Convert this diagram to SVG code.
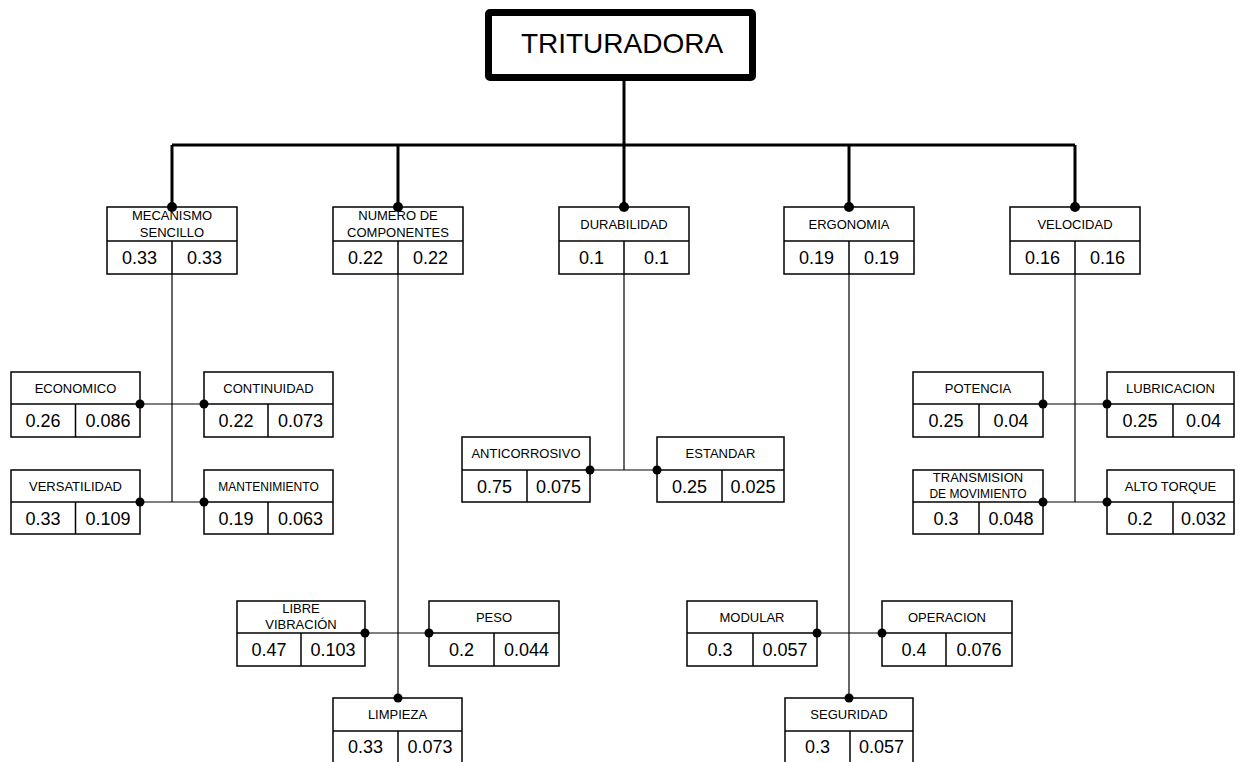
<svg xmlns="http://www.w3.org/2000/svg" width="1245" height="762" viewBox="0 0 1245 762">
<style>
.bg{fill:#fff}
.box{fill:#fff;stroke:#000;stroke-width:1.5}
.sep{stroke:#000;stroke-width:1.5}
.top{fill:#fff;stroke:#000;stroke-width:7}
.thick{stroke:#000;stroke-width:3;fill:none}
.thin{stroke:#000;stroke-width:1.2;fill:none}
.dot{fill:#000}
text{font-family:"Liberation Sans",Arial,sans-serif;text-anchor:middle;fill:#000}
.hd{font-size:13px}
.hs{font-size:12px}
.val{font-size:18px}
.title{font-size:28px}
</style>
<rect class="bg" x="0" y="0" width="1245" height="762"/>

<g id="connectors">
  <line class="thick" x1="624" y1="80" x2="624" y2="145"/>
  <line class="thick" x1="172" y1="145" x2="1075" y2="145"/>
  <line class="thick" x1="172" y1="145" x2="172" y2="207"/>
  <line class="thick" x1="398" y1="145" x2="398" y2="207"/>
  <line class="thick" x1="624" y1="145" x2="624" y2="207"/>
  <line class="thick" x1="849" y1="145" x2="849" y2="207"/>
  <line class="thick" x1="1075" y1="145" x2="1075" y2="207"/>
  <!-- mecanismo -->
  <line class="thin" x1="172" y1="274" x2="172" y2="502"/>
  <line class="thin" x1="140" y1="404" x2="204" y2="404"/>
  <line class="thin" x1="140" y1="502" x2="204" y2="502"/>
  <!-- numero -->
  <line class="thin" x1="398" y1="274" x2="398" y2="698"/>
  <line class="thin" x1="365" y1="633" x2="429" y2="633"/>
  <!-- durabilidad -->
  <line class="thin" x1="624" y1="274" x2="624" y2="470"/>
  <line class="thin" x1="590" y1="470" x2="657" y2="470"/>
  <!-- ergonomia -->
  <line class="thin" x1="849" y1="274" x2="849" y2="698"/>
  <line class="thin" x1="817" y1="633" x2="882" y2="633"/>
  <!-- velocidad -->
  <line class="thin" x1="1075" y1="274" x2="1075" y2="502"/>
  <line class="thin" x1="1043" y1="404" x2="1107" y2="404"/>
  <line class="thin" x1="1043" y1="502" x2="1107" y2="502"/>
</g>

<g id="trituradora">
  <rect class="top" x="488.5" y="12.5" width="264" height="65" rx="1.5"/>
  <text class="title" x="622" y="53">TRITURADORA</text>
</g>

<!-- Level 1 -->
<g id="mecanismo">
  <rect class="box" x="107" y="207" width="130" height="67"/>
  <line class="sep" x1="107" y1="241" x2="237" y2="241"/>
  <line class="sep" x1="172" y1="241" x2="172" y2="274"/>
  <text class="hd" x="172" y="220">MECANISMO</text>
  <text class="hd" x="172" y="237">SENCILLO</text>
  <text class="val" x="139.5" y="264">0.33</text>
  <text class="val" x="204.5" y="264">0.33</text>
</g>
<g id="numero">
  <rect class="box" x="333" y="207" width="130" height="67"/>
  <line class="sep" x1="333" y1="241" x2="463" y2="241"/>
  <line class="sep" x1="398" y1="241" x2="398" y2="274"/>
  <text class="hd" x="398" y="220">NUMERO DE</text>
  <text class="hd" x="398" y="237">COMPONENTES</text>
  <text class="val" x="365.5" y="264">0.22</text>
  <text class="val" x="430.5" y="264">0.22</text>
</g>
<g id="durabilidad">
  <rect class="box" x="559" y="207" width="130" height="67"/>
  <line class="sep" x1="559" y1="241" x2="689" y2="241"/>
  <line class="sep" x1="624" y1="241" x2="624" y2="274"/>
  <text class="hd" x="624" y="229">DURABILIDAD</text>
  <text class="val" x="591.5" y="264">0.1</text>
  <text class="val" x="656.5" y="264">0.1</text>
</g>
<g id="ergonomia">
  <rect class="box" x="784" y="207" width="130" height="67"/>
  <line class="sep" x1="784" y1="241" x2="914" y2="241"/>
  <line class="sep" x1="849" y1="241" x2="849" y2="274"/>
  <text class="hd" x="849" y="229">ERGONOMIA</text>
  <text class="val" x="816.5" y="264">0.19</text>
  <text class="val" x="881.5" y="264">0.19</text>
</g>
<g id="velocidad">
  <rect class="box" x="1010" y="207" width="130" height="67"/>
  <line class="sep" x1="1010" y1="241" x2="1140" y2="241"/>
  <line class="sep" x1="1075" y1="241" x2="1075" y2="274"/>
  <text class="hd" x="1075" y="229">VELOCIDAD</text>
  <text class="val" x="1042.5" y="264">0.16</text>
  <text class="val" x="1107.5" y="264">0.16</text>
</g>

<!-- Level 2 : mecanismo -->
<g id="economico">
  <rect class="box" x="11" y="372" width="129" height="65"/>
  <line class="sep" x1="11" y1="404" x2="140" y2="404"/>
  <line class="sep" x1="75.5" y1="404" x2="75.5" y2="437"/>
  <text class="hd" x="75.5" y="393">ECONOMICO</text>
  <text class="val" x="43" y="427">0.26</text>
  <text class="val" x="108" y="427">0.086</text>
</g>
<g id="continuidad">
  <rect class="box" x="204" y="372" width="129" height="65"/>
  <line class="sep" x1="204" y1="404" x2="333" y2="404"/>
  <line class="sep" x1="268" y1="404" x2="268" y2="437"/>
  <text class="hd" x="268.5" y="393">CONTINUIDAD</text>
  <text class="val" x="236" y="427">0.22</text>
  <text class="val" x="300.5" y="427">0.073</text>
</g>
<g id="versatilidad">
  <rect class="box" x="11" y="470" width="129" height="64"/>
  <line class="sep" x1="11" y1="502" x2="140" y2="502"/>
  <line class="sep" x1="75.5" y1="502" x2="75.5" y2="534"/>
  <text class="hd" x="75.5" y="491">VERSATILIDAD</text>
  <text class="val" x="43" y="525">0.33</text>
  <text class="val" x="108" y="525">0.109</text>
</g>
<g id="mantenimiento">
  <rect class="box" x="204" y="470" width="129" height="64"/>
  <line class="sep" x1="204" y1="502" x2="333" y2="502"/>
  <line class="sep" x1="268" y1="502" x2="268" y2="534"/>
  <text class="hs" x="268.5" y="491">MANTENIMIENTO</text>
  <text class="val" x="236" y="525">0.19</text>
  <text class="val" x="300.5" y="525">0.063</text>
</g>

<!-- durabilidad children -->
<g id="anticorrosivo">
  <rect class="box" x="462" y="437" width="128" height="65"/>
  <line class="sep" x1="462" y1="470" x2="590" y2="470"/>
  <line class="sep" x1="527" y1="470" x2="527" y2="502"/>
  <text class="hd" x="526" y="458">ANTICORROSIVO</text>
  <text class="val" x="494.5" y="493">0.75</text>
  <text class="val" x="558.5" y="493">0.075</text>
</g>
<g id="estandar">
  <rect class="box" x="657" y="437" width="127" height="65"/>
  <line class="sep" x1="657" y1="470" x2="784" y2="470"/>
  <line class="sep" x1="722" y1="470" x2="722" y2="502"/>
  <text class="hd" x="720.5" y="458">ESTANDAR</text>
  <text class="val" x="689.5" y="493">0.25</text>
  <text class="val" x="753" y="493">0.025</text>
</g>

<!-- velocidad children -->
<g id="potencia">
  <rect class="box" x="913" y="372" width="130" height="65"/>
  <line class="sep" x1="913" y1="404" x2="1043" y2="404"/>
  <line class="sep" x1="979" y1="404" x2="979" y2="437"/>
  <text class="hd" x="978" y="393">POTENCIA</text>
  <text class="val" x="946" y="427">0.25</text>
  <text class="val" x="1011" y="427">0.04</text>
</g>
<g id="lubricacion">
  <rect class="box" x="1107" y="372" width="127" height="65"/>
  <line class="sep" x1="1107" y1="404" x2="1234" y2="404"/>
  <line class="sep" x1="1173" y1="404" x2="1173" y2="437"/>
  <text class="hd" x="1170.5" y="393">LUBRICACION</text>
  <text class="val" x="1140" y="427">0.25</text>
  <text class="val" x="1203.5" y="427">0.04</text>
</g>
<g id="transmision">
  <rect class="box" x="913" y="470" width="130" height="64"/>
  <line class="sep" x1="913" y1="502" x2="1043" y2="502"/>
  <line class="sep" x1="979" y1="502" x2="979" y2="534"/>
  <text class="hd" x="978" y="482">TRANSMISION</text>
  <text class="hs" x="978" y="498">DE MOVIMIENTO</text>
  <text class="val" x="946" y="525">0.3</text>
  <text class="val" x="1011" y="525">0.048</text>
</g>
<g id="altotorque">
  <rect class="box" x="1107" y="470" width="127" height="64"/>
  <line class="sep" x1="1107" y1="502" x2="1234" y2="502"/>
  <line class="sep" x1="1173" y1="502" x2="1173" y2="534"/>
  <text class="hd" x="1170.5" y="491">ALTO TORQUE</text>
  <text class="val" x="1140" y="525">0.2</text>
  <text class="val" x="1203.5" y="525">0.032</text>
</g>

<!-- numero children -->
<g id="librevibracion">
  <rect class="box" x="237" y="601" width="128" height="65"/>
  <line class="sep" x1="237" y1="633" x2="365" y2="633"/>
  <line class="sep" x1="301" y1="633" x2="301" y2="666"/>
  <text class="hd" x="301" y="613">LIBRE</text>
  <text class="hd" x="301" y="629">VIBRACIÓN</text>
  <text class="val" x="269" y="656">0.47</text>
  <text class="val" x="333" y="656">0.103</text>
</g>
<g id="peso">
  <rect class="box" x="429" y="601" width="130" height="65"/>
  <line class="sep" x1="429" y1="633" x2="559" y2="633"/>
  <line class="sep" x1="494" y1="633" x2="494" y2="666"/>
  <text class="hd" x="494" y="622">PESO</text>
  <text class="val" x="461.5" y="656">0.2</text>
  <text class="val" x="526.5" y="656">0.044</text>
</g>
<g id="limpieza">
  <rect class="box" x="333" y="698" width="129" height="68"/>
  <line class="sep" x1="333" y1="731" x2="462" y2="731"/>
  <line class="sep" x1="398" y1="731" x2="398" y2="766"/>
  <text class="hd" x="397.5" y="719">LIMPIEZA</text>
  <text class="val" x="365.5" y="753">0.33</text>
  <text class="val" x="430" y="753">0.073</text>
</g>

<!-- ergonomia children -->
<g id="modular">
  <rect class="box" x="687" y="601" width="130" height="65"/>
  <line class="sep" x1="687" y1="633" x2="817" y2="633"/>
  <line class="sep" x1="753" y1="633" x2="753" y2="666"/>
  <text class="hd" x="752" y="622">MODULAR</text>
  <text class="val" x="720" y="656">0.3</text>
  <text class="val" x="785" y="656">0.057</text>
</g>
<g id="operacion">
  <rect class="box" x="882" y="601" width="130" height="65"/>
  <line class="sep" x1="882" y1="633" x2="1012" y2="633"/>
  <line class="sep" x1="946" y1="633" x2="946" y2="666"/>
  <text class="hd" x="947" y="622">OPERACION</text>
  <text class="val" x="914" y="656">0.4</text>
  <text class="val" x="979" y="656">0.076</text>
</g>
<g id="seguridad">
  <rect class="box" x="785" y="698" width="128" height="68"/>
  <line class="sep" x1="785" y1="731" x2="913" y2="731"/>
  <line class="sep" x1="850" y1="731" x2="850" y2="766"/>
  <text class="hd" x="849" y="719">SEGURIDAD</text>
  <text class="val" x="817.5" y="753">0.3</text>
  <text class="val" x="881.5" y="753">0.057</text>
</g>

<g id="dots">
  <circle class="dot" cx="172" cy="207" r="5"/>
  <circle class="dot" cx="398" cy="207" r="5"/>
  <circle class="dot" cx="624" cy="207" r="5"/>
  <circle class="dot" cx="849" cy="207" r="5"/>
  <circle class="dot" cx="1075" cy="207" r="5"/>
  <circle class="dot" cx="140" cy="404" r="4.5"/>
  <circle class="dot" cx="204" cy="404" r="4.5"/>
  <circle class="dot" cx="140" cy="502" r="4.5"/>
  <circle class="dot" cx="204" cy="502" r="4.5"/>
  <circle class="dot" cx="590" cy="470" r="4.5"/>
  <circle class="dot" cx="657" cy="470" r="4.5"/>
  <circle class="dot" cx="1043" cy="404" r="4.5"/>
  <circle class="dot" cx="1107" cy="404" r="4.5"/>
  <circle class="dot" cx="1043" cy="502" r="4.5"/>
  <circle class="dot" cx="1107" cy="502" r="4.5"/>
  <circle class="dot" cx="365" cy="633" r="4.5"/>
  <circle class="dot" cx="429" cy="633" r="4.5"/>
  <circle class="dot" cx="398" cy="698" r="4.5"/>
  <circle class="dot" cx="817" cy="633" r="4.5"/>
  <circle class="dot" cx="882" cy="633" r="4.5"/>
  <circle class="dot" cx="849" cy="698" r="4.5"/>
</g>
</svg>
